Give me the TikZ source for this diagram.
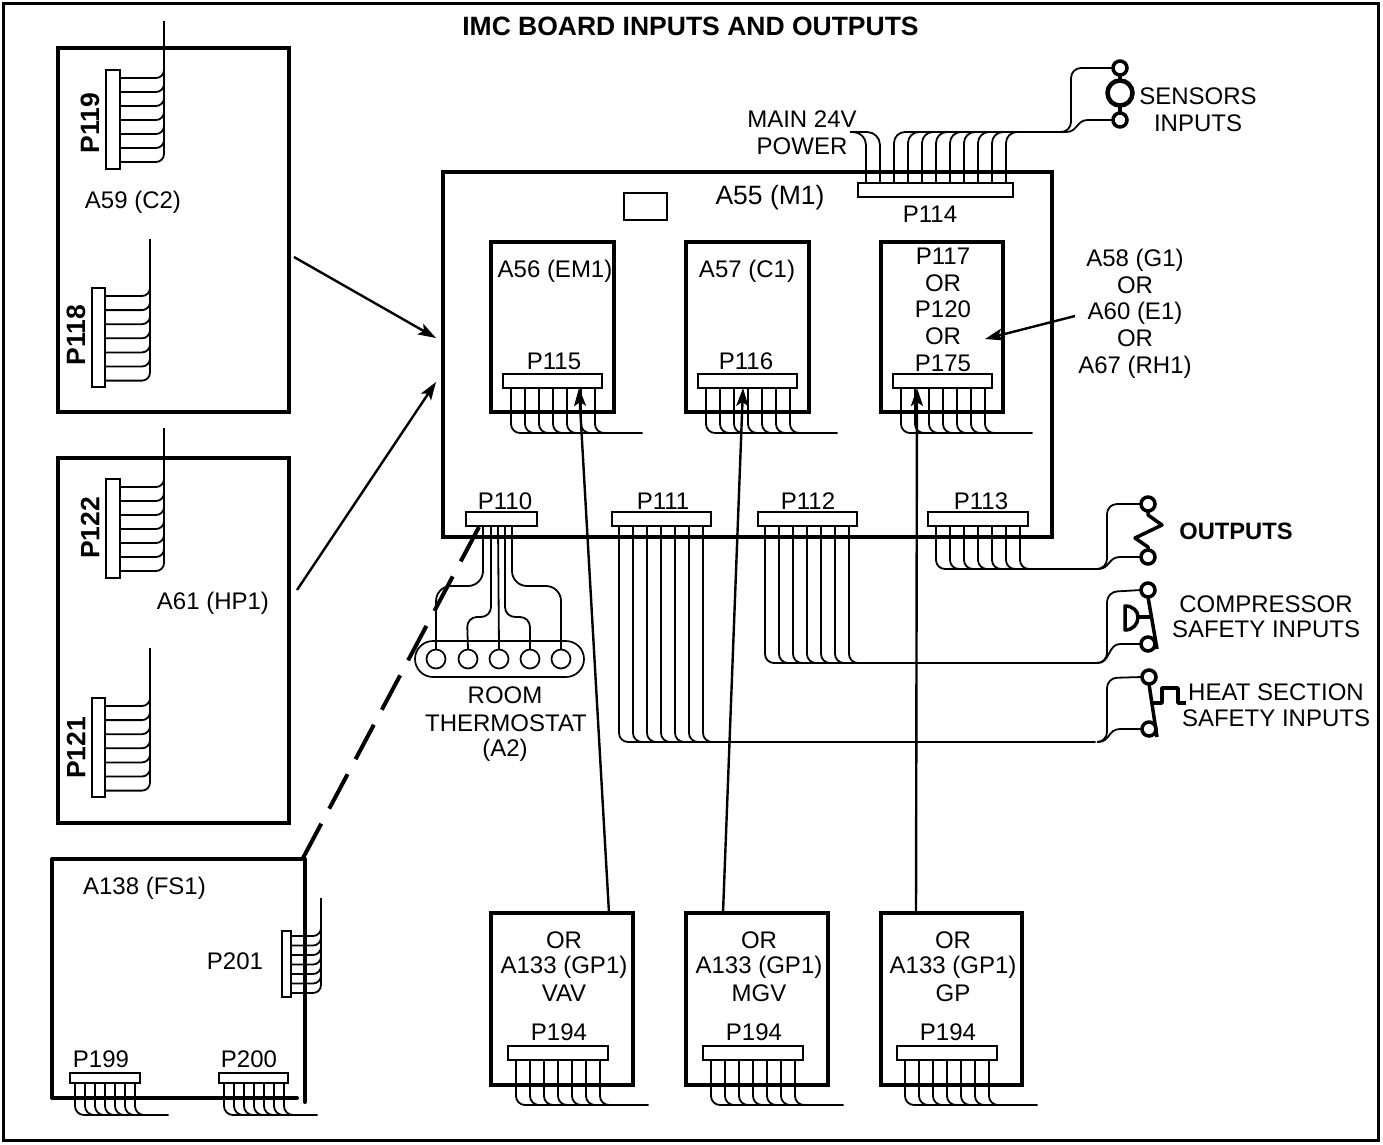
\documentclass[tikz,border=0pt]{standalone}
\usepackage{fontspec}
\setmainfont{Liberation Sans}
\usetikzlibrary{arrows.meta,calc}
\tikzset{
  frame/.style={draw=black,line width=3pt},
  board/.style={draw=black,line width=4pt,fill=none,inner sep=0pt,outer sep=0pt},
  plug/.style={draw=black,fill=white,line width=1.7pt,inner sep=0pt,outer sep=0pt},
  wire/.style={draw=black,line width=1.8pt},
  feed/.style={draw=black,line width=2.4pt,-{Stealth[length=18pt,width=12pt,inset=4pt]}},
  hole/.style={circle,draw=black,fill=white,line width=1.7pt,minimum size=19pt,inner sep=0pt,outer sep=0pt},
  term/.style={circle,draw=black,fill=white,line width=3.5pt,minimum size=14pt,inner sep=0pt,outer sep=0pt},
  sym/.style={draw=black,line width=3.5pt},
  txt/.style={inner sep=0pt,outer sep=0pt,font=\fontsize{24}{27}\selectfont,text=black},
  bigtxt/.style={inner sep=0pt,outer sep=0pt,font=\fontsize{26.5}{30}\selectfont,text=black},
  bold/.style={inner sep=0pt,outer sep=0pt,font=\fontsize{23.7}{27}\selectfont\bfseries,text=black},
  bigbold/.style={inner sep=0pt,outer sep=0pt,font=\fontsize{26.5}{30}\selectfont\bfseries,text=black},
  stack/.style={txt,align=center},
}
% name, style, x1, y1, x2, y2
\newcommand{\rectnode}[6]{%
  \pgfmathsetmacro{\rw}{#5-#3}\pgfmathsetmacro{\rh}{#6-#4}%
  \pgfmathsetmacro{\rx}{(#5+#3)/2}\pgfmathsetmacro{\ry}{(#6+#4)/2}%
  \node[#2,minimum width=\rw pt,minimum height=\rh pt] (#1) at (\rx,\ry) {};}
% plug, offset, step, last index, bottom y, end x
\newcommand{\busdown}[6]{%
  \foreach \i in {0,...,#4}{
    \draw[wire,rounded corners=9pt] ($(#1.south west)+({#2+#3*\i},0)$) |- (#6,#5);
  }}
% plug, offset, step, last index, vertical x, top y
\newcommand{\busright}[6]{%
  \foreach \i in {0,...,#4}{
    \draw[wire,rounded corners=8pt] ($(#1.north east)+(0,{#2+#3*\i})$) -| (#5,#6);
  }}
% two terminals with their two feed wires: start x, main y, vertical x, top y, bottom y, names
\newcommand{\feedpair}[7]{%
  \coordinate (#6fork) at (#1,#2);
  \draw[wire,rounded corners=10pt] (#6fork) -- (#3,#2) -- (#3,#4) -- (#6.west);
  \draw[wire] (#6fork) .. controls ({#1+12},#2) and ({#1+10},#5) .. ({#1+22},#5) -- (#7.west);}
\begin{document}
\begin{tikzpicture}[x=1pt,y=-1pt]
\useasboundingbox (0,0) rectangle (1383,1144);
\rectnode{outer}{frame}{3}{3}{1378}{1140}
\node[bigbold] (title) at (690.5,26) {IMC BOARD INPUTS AND OUTPUTS};

% left boards
\rectnode{a59}{board}{58}{48}{289}{412}
\rectnode{a61}{board}{58}{458}{289}{823}
\rectnode{p119}{plug}{106}{70}{120}{169}
\rectnode{p118}{plug}{92}{288}{105}{387}
\rectnode{p122}{plug}{106}{479}{120}{578}
\rectnode{p121}{plug}{92}{698}{105}{797}
\busright{p119}{8}{14}{6}{164}{21}
\busright{p118}{8}{14.1}{6}{150}{239}
\busright{p122}{8}{14}{6}{164}{428}
\busright{p121}{8}{14.1}{6}{150}{648}
\node[bigbold,rotate=90] (lp119) at (90,123) {P119};
\node[bigbold,rotate=90] (lp118) at (76,335) {P118};
\node[bigbold,rotate=90] (lp122) at (90,528) {P122};
\node[bigbold,rotate=90] (lp121) at (76,748) {P121};
\node[txt] (la59) at (133,202) {A59 (C2)};
\node[txt] (la61) at (213,603) {A61 (HP1)};

% A138
\coordinate (fsa) at (297,1098);
\coordinate (fsb) at (52,859);
\coordinate (fsc) at (305,859);
\coordinate (fsd) at (305,1102);
\draw[board,line join=round,line cap=round] (fsa) -- (52,1098) -- (fsb) -- (fsc) -- (fsd);
\rectnode{p201}{plug}{282}{931}{291}{997}
\rectnode{p199}{plug}{70}{1073}{140}{1083}
\rectnode{p200}{plug}{219}{1073}{288}{1083}
\busright{p201}{5}{9.5}{6}{321}{898}
\busdown{p199}{5}{10}{6}{1115}{168}
\busdown{p200}{5}{10}{6}{1115}{317}
\node[txt] (lfs) at (144.5,888) {A138 (FS1)};
\node[txt] (lp201) at (235,961) {P201};
\node[txt] (lp199) at (101,1059) {P199};
\node[txt] (lp200) at (249,1059) {P200};

% main board
\rectnode{a55}{board}{443}{172}{1052}{537}
\rectnode{chip}{draw=black,line width=1.7pt,inner sep=0pt,outer sep=0pt}{624}{193}{667}{220}
\node[bigtxt] (la55) at (770,198) {A55 (M1)};
\rectnode{a56}{board}{491}{242}{614}{412}
\rectnode{a57}{board}{686}{242}{809}{412}
\rectnode{a58}{board}{881}{242}{1003}{412}
\rectnode{p115}{plug}{503}{374}{602}{388}
\rectnode{p116}{plug}{698}{374}{797}{388}
\rectnode{p175}{plug}{893}{374}{992}{388}
\busdown{p115}{8}{14}{6}{433}{642}
\busdown{p116}{8}{14}{6}{433}{837}
\busdown{p175}{8}{14}{6}{433}{1032}
\node[txt] (la56) at (555,271) {A56 (EM1)};
\node[txt] (la57) at (747,271) {A57 (C1)};
\node[txt] (lp115) at (554,361) {P115};
\node[txt] (lp116) at (746,361) {P116};
\node[stack] (s117) at (943,256) {P117};
\node[stack] (s1or) at (943,283) {OR};
\node[stack] (s120) at (943,309) {P120};
\node[stack] (s2or) at (943,336) {OR};
\node[stack] (s175) at (943,363) {P175};
\node[txt] (g1) at (1135,260) {A58 (G1)};
\node[txt] (g2) at (1135,285) {OR};
\node[txt] (g3) at (1135,313) {A60 (E1)};
\node[txt] (g4) at (1135,338) {OR};
\node[txt] (g5) at (1135,367) {A67 (RH1)};

% P114
\rectnode{p114}{plug}{858}{183}{1013}{197}
\node[txt] (lp114) at (930,214) {P114};
\foreach \i in {0,1}{
  \draw[wire,rounded corners=13pt] ($(p114.north west)+({8+14*\i},0)$) |- (850,132);
}
\foreach \i in {2,...,10}{
  \draw[wire,rounded corners=11pt] ($(p114.north west)+({8+14*\i},0)$) |- (1066,132);
}
\node[txt] (lm1) at (802,119) {MAIN 24V};
\node[txt] (lm2) at (802,146) {POWER};
\node[term] (sa) at (1120,68) {};
\node[term] (sb) at (1120,120) {};
\node[circle,draw=black,fill=white,line width=4.5pt,minimum size=25pt,inner sep=0pt,outer sep=0pt] (sc) at (1120,93) {};
\draw[sym] (sa) -- (sc) (sc) -- (sb);
\feedpair{1066}{132}{1071}{68}{120}{sa}{sb}
\node[txt] (ls1) at (1198,96) {SENSORS};
\node[txt] (ls2) at (1198,123) {INPUTS};

% lower plugs
\rectnode{p110}{plug}{466}{512}{537}{526}
\rectnode{p111}{plug}{612}{512}{711}{526}
\rectnode{p112}{plug}{758}{512}{857}{526}
\rectnode{p113}{plug}{928}{512}{1028}{526}
\node[txt] (lp110) at (505,501) {P110};
\node[txt] (lp111) at (663,501) {P111};
\node[txt] (lp112) at (808,501) {P112};
\node[txt] (lp113) at (981,501) {P113};
\busdown{p111}{7}{14}{6}{742}{1095}
\busdown{p112}{7}{14}{6}{663}{1098}
\busdown{p113}{8}{14}{6}{569}{1098}

% outputs
\node[term] (oa) at (1148,504) {};
\node[term] (ob) at (1148,557) {};
\feedpair{1098}{569}{1107}{504}{557}{oa}{ob}
\draw[sym,line join=round] (oa.south) -- (1148,515) -- (1162,525) -- (1135,538) -- (1148,547) -- (ob.north);
\node[bold] (lo) at (1236,531) {OUTPUTS};

% compressor
\node[term] (ca) at (1148,590) {};
\node[term] (cb) at (1148,644) {};
\feedpair{1098}{663}{1107}{592}{644}{ca}{cb}
\draw[sym] (ca.south) -- (1157,649);
\draw[sym] (1152,617) -- (1138,617);
\draw[sym,line join=round] (1125,606) .. controls (1133,606) and (1138,611) .. (1138,617) .. controls (1138,624) and (1133,630) .. (1125,630) -- cycle;
\node[txt] (lc1) at (1266,604) {COMPRESSOR};
\node[txt] (lc2) at (1266,629) {SAFETY INPUTS};

% heat
\node[term] (ha) at (1149,677) {};
\node[term] (hb) at (1149,729) {};
\feedpair{1098}{742}{1107}{678}{729}{ha}{hb}
\draw[sym] (ha.south) -- (1157,737);
\draw[sym,line join=round] (1152,703) -- (1162,703) -- (1162,688) -- (1178,688) -- (1178,703) -- (1186,703);
\node[txt] (lh1) at (1276,692) {HEAT SECTION};
\node[txt] (lh2) at (1276,718) {SAFETY INPUTS};

% thermostat
\node[draw=black,line width=1.7pt,rounded corners=18pt,minimum width=169pt,minimum height=36pt,inner sep=0pt,outer sep=0pt] (pill) at (499.5,659) {};
\node[hole] (h1) at (436,659) {};
\node[hole] (h2) at (468,659) {};
\node[hole] (h3) at (499,659) {};
\node[hole] (h4) at (530,659) {};
\node[hole] (h5) at (561,659) {};
\draw[wire,rounded corners=15pt] ($(p110.south west)+(17,0)$) -- (483,586) -- (436,586) -- (h1.north);
\draw[wire,rounded corners=10pt] ($(p110.south west)+(25,0)$) -- (491,617) -- (467,617) -- (h2.north);
\draw[wire] ($(p110.south west)+(32,0)$) -- (h3.north);
\draw[wire,rounded corners=10pt] ($(p110.south west)+(39,0)$) -- (505,617) -- (530,617) -- (h4.north);
\draw[wire,rounded corners=15pt] ($(p110.south west)+(46,0)$) -- (512,586) -- (561,586) -- (h5.north);
\node[txt] (lr1) at (505,695) {ROOM};
\node[txt] (lr2) at (506,723) {THERMOSTAT};
\node[txt] (lr3) at (505,750) {(A2)};

% A133 boards
\rectnode{b1}{board}{491}{913}{633}{1085}
\rectnode{b2}{board}{686}{913}{828}{1085}
\rectnode{b3}{board}{881}{913}{1022}{1085}
\rectnode{p194a}{plug}{508}{1046}{608}{1060}
\rectnode{p194b}{plug}{703}{1046}{803}{1060}
\rectnode{p194c}{plug}{897}{1046}{997}{1060}
\busdown{p194a}{8}{14}{6}{1105}{648}
\busdown{p194b}{8}{14}{6}{1105}{843}
\busdown{p194c}{8}{14}{6}{1105}{1037}
\node[txt] (b1a) at (564,940) {OR};
\node[txt] (b1b) at (564,967) {A133 (GP1)};
\node[txt] (b1c) at (564,993) {VAV};
\node[txt] (b1d) at (559,1032) {P194};
\node[txt] (b2a) at (759,940) {OR};
\node[txt] (b2b) at (759,967) {A133 (GP1)};
\node[txt] (b2c) at (759,993) {MGV};
\node[txt] (b2d) at (754,1032) {P194};
\node[txt] (b3a) at (953,940) {OR};
\node[txt] (b3b) at (953,967) {A133 (GP1)};
\node[txt] (b3c) at (953,993) {GP};
\node[txt] (b3d) at (948,1032) {P194};

% arrows
\coordinate (q1) at (579,388);
\coordinate (q2) at (743,388);
\coordinate (q3) at (917,388);
\draw[feed] (609,913) -- (q1);
\draw[feed] (723,913) -- (q2);
\draw[feed] (916,913) -- (q3);
\coordinate (arA) at (294,257);
\coordinate (arB) at (436,338);
\coordinate (arC) at (297,590);
\coordinate (arD) at (436,382);
\coordinate (arE) at (1075,316);
\coordinate (arF) at (985,339);
\draw[feed] (arA) -- (arB);
\draw[feed] (arC) -- (arD);
\draw[feed] (arE) -- (arF);

% dashed link
\coordinate (da) at (479,527);
\coordinate (db) at (303,858);
\draw[draw=black,line width=4pt,dash pattern=on 39pt off 17pt] (da) -- (db);
\end{tikzpicture}
\end{document}
